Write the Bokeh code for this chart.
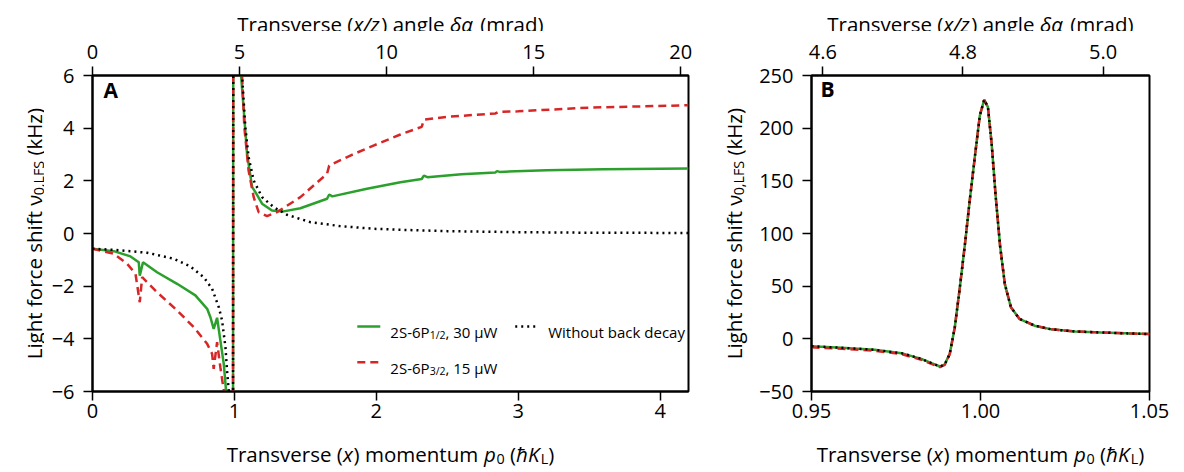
import math
from bokeh.plotting import figure
from bokeh.models import Range1d, LinearAxis, FixedTicker, Label, Arrow
from bokeh.layouts import row, column
from bokeh.embed import file_html
from bokeh.resources import INLINE

# ---------------- data ----------------
ANGLE_PER_MOMENTUM = 4.825  # mrad per hbar K_L (top axis conversion)

# Panel A: narrow resonance (shared by all curves, runs off-scale)
spike_a_x = [0.970, 0.982, 0.988, 0.9925, 0.997, 1.001, 1.006, 1.015, 1.030]
spike_a_y = [-11.0, -18.0, -27.0, 12.0, 135.0, 227.0, 84.0, 25.0, 12.0]

# green: 2S-6P1/2, 30 uW
green_left_x = [0.0, 0.15, 0.268, 0.326, 0.333, 0.356, 0.455, 0.596, 0.725, 0.808,
                0.831, 0.854, 0.878, 0.901, 0.925, 0.941, 0.960]
green_left_y = [-0.58, -0.67, -0.87, -1.09, -1.60, -1.09, -1.47, -1.91, -2.35, -2.86,
                -3.18, -3.62, -3.20, -4.06, -4.95, -5.96, -8.0]
green_right_x = [1.047, 1.066, 1.089, 1.125, 1.148, 1.195, 1.265, 1.347, 1.465, 1.653,
                 1.668, 1.690, 1.934, 2.170, 2.320, 2.335, 2.360, 2.600, 2.840, 2.850,
                 2.870, 3.200, 3.600, 4.200]
green_right_y = [6.0, 4.67, 3.03, 1.76, 1.57, 1.13, 0.87, 0.84, 0.96, 1.32,
                 1.48, 1.41, 1.70, 1.95, 2.07, 2.20, 2.14, 2.25, 2.32, 2.37,
                 2.34, 2.40, 2.44, 2.47]

# red: 2S-6P3/2, 15 uW
red_left_x = [0.0, 0.15, 0.244, 0.303, 0.333, 0.350, 0.455, 0.596, 0.714, 0.808,
              0.843, 0.854, 0.878, 0.901, 0.925, 0.950]
red_left_y = [-0.58, -0.77, -1.15, -1.53, -2.61, -1.66, -2.23, -2.92, -3.56, -4.19,
              -4.57, -5.14, -4.13, -5.08, -5.96, -8.5]
red_right_x = [1.054, 1.070, 1.100, 1.136, 1.171, 1.230, 1.300, 1.465, 1.653, 1.668,
               1.817, 1.980, 2.170, 2.320, 2.335, 2.500, 2.840, 2.860, 3.000, 3.500, 4.200]
red_right_y = [6.0, 4.04, 2.39, 1.38, 0.81, 0.66, 0.81, 1.38, 2.27, 2.58,
               2.96, 3.34, 3.76, 4.05, 4.32, 4.43, 4.56, 4.62, 4.64, 4.78, 4.87]

# black dotted: without back decay
black_left_x = [0.0, 0.15, 0.385, 0.573, 0.690, 0.784, 0.843, 0.890, 0.913, 0.937, 0.948, 0.960]
black_left_y = [-0.58, -0.62, -0.73, -0.96, -1.25, -1.66, -2.10, -2.80, -3.30, -4.32, -5.2, -5.96]
black_right_x = [1.054, 1.077, 1.100, 1.136, 1.195, 1.277, 1.371, 1.535, 1.746, 1.980,
                 2.170, 2.500, 3.000, 3.500, 4.200]
black_right_y = [6.0, 4.04, 2.90, 2.01, 1.38, 1.00, 0.71, 0.43, 0.28, 0.18,
                 0.14, 0.09, 0.05, 0.03, 0.02]

# Panel B: zoom on the resonance (kHz)
b_x = [0.9500, 0.9589, 0.9687, 0.9766, 0.9825, 0.9855, 0.9880, 0.9894, 0.9909, 0.9924,
       0.9939, 0.9954, 0.9968, 0.9983, 0.9998, 1.0011, 1.0022, 1.0033, 1.0045, 1.0058,
       1.0072, 1.0090, 1.0115, 1.0160, 1.0210, 1.0280, 1.0358, 1.0430, 1.0500]
green_b_y = [-7.0, -8.5, -10.4, -13.6, -19.0, -23.1, -26.3, -24.4, -14.3, 11.0,
             49.0, 90.0, 131.0, 172.0, 212.0, 227.0, 220.0, 185.0, 135.0, 88.0,
             52.0, 30.0, 19.0, 12.5, 9.0, 7.0, 6.0, 5.2, 4.5]
red_b_y = [-8.0, -9.4, -11.3, -14.5, -19.8, -23.8, -26.8, -24.8, -14.5, 11.0,
           49.0, 90.0, 131.0, 172.0, 212.0, 227.0, 220.0, 185.0, 135.0, 88.0,
           52.0, 30.0, 19.0, 12.5, 9.0, 7.0, 6.0, 5.2, 4.5]
black_b_y = [-7.0, -8.5, -10.4, -13.6, -19.0, -23.1, -26.3, -24.4, -14.3, 11.0,
             49.0, 90.0, 131.0, 172.0, 212.0, 227.0, 220.0, 185.0, 135.0, 88.0,
             52.0, 30.0, 19.0, 12.5, 9.0, 7.0, 6.0, 5.2, 4.5]

# ticks
a_x_ticks = [0, 1, 2, 3, 4]
a_x_labels = ["0", "1", "2", "3", "4"]
a_top_ticks = [0, 5, 10, 15, 20]
a_top_labels = ["0", "5", "10", "15", "20"]
a_y_ticks = [-6, -4, -2, 0, 2, 4, 6]
a_y_labels = ["\u22126", "\u22124", "\u22122", "0", "2", "4", "6"]
b_x_ticks = [0.95, 1.0, 1.05]
b_x_labels = ["0.95", "1.00", "1.05"]
b_top_ticks = [4.6, 4.8, 5.0]
b_top_labels = ["4.6", "4.8", "5.0"]
b_y_ticks = [-50, 0, 50, 100, 150, 200, 250]
b_y_labels = ["\u221250", "0", "50", "100", "150", "200", "250"]

GREEN = "#2ca02c"
RED = "#d62728"
FONT = "Open Sans"

OPEN_SANS_W = {' ': .26, '(': .296, ')': .296, ',': .245, '.': .266, '/': .367, '-': .322,
               'A': .633, 'B': .648, 'F': .516, 'H': .738, 'K': .593, 'L': .519, 'P': .603,
               'S': .549, 'T': .556, 'W': .925, 'a': .556, 'b': .613, 'c': .48, 'd': .613,
               'e': .561, 'f': .336, 'g': .546, 'h': .614, 'i': .258, 'k': .535, 'l': .258,
               'm': .933, 'n': .614, 'o': .602, 'p': .613, 'r': .408, 's': .477, 't': .353,
               'u': .614, 'v': .5, 'x': .519, 'y': .501, 'z': .468, '\u03bd': .5,
               '\u03b4': .6, '\u03b1': .613, '\u0127': .614, '\u03bc': .62}
for _d in "0123456789":
    OPEN_SANS_W[_d] = .572

SUB = 0.7


def text_w(s, size):
    return sum(OPEN_SANS_W.get(c, 0.56) for c in s) * size


def place_pieces(p, pieces, x, y, size, angle=0.0, align="center", base_dx=0.0, base_dy=0.0):
    """Lay out rich-text pieces (text, style, is_subscript) one after the other."""
    widths = [text_w(t, size * (SUB if sub else 1)) for t, st, sub in pieces]
    cum = -sum(widths) / 2 if align == "center" else 0.0
    for (t, st, sub), w in zip(pieces, widths):
        fs = size * SUB if sub else size
        lead = len(t) - len(t.lstrip(" "))
        start = cum + text_w(" " * lead, fs)
        shift = size * 0.22 if sub else 0.0
        if angle == 0:
            xo, yo = base_dx + start, base_dy - shift
        else:
            xo, yo = base_dx + shift, base_dy + start
        p.add_layout(Label(x=x, y=y, x_offset=xo, y_offset=yo, text=t.strip(" "), angle=angle,
                           text_font=FONT, text_font_size=f"{fs:.1f}px",
                           text_font_style=st, text_baseline="alphabetic",
                           text_align="left", text_color="black"))
        cum += w


Y_PIECES = [("Light force shift \u03bd", "normal", False), ("0,LFS", "normal", True),
            (" (kHz)", "normal", False)]
X_PIECES = [("Transverse (", "normal", False), ("x", "italic", False),
            (") momentum ", "normal", False), ("p", "italic", False), ("0", "normal", True),
            (" (", "normal", False), ("\u0127K", "italic", False), ("L", "normal", True),
            (")", "normal", False)]
TOP_PIECES = [("Transverse (", "normal", False), ("x/z", "italic", False),
              (") angle ", "normal", False), ("\u03b4\u03b1", "italic", False),
              (" (mrad)", "normal", False)]

LABEL_SIZE = 20.5
FRAME_H = 316
BORDER_TOP, BORDER_BOTTOM = 44, 40
TOP_H, BOT_H = 31, 40
FULL_H = TOP_H + BORDER_TOP + FRAME_H + BORDER_BOTTOM + BOT_H


def text_fig(fw, h, bl=0, br=0):
    # the frame of a text strip lines up with the frame of the panel in the same column
    f = figure(frame_width=fw, frame_height=h, x_range=Range1d(0, fw), y_range=Range1d(0, h),
               title=None, x_axis_type=None, y_axis_type=None, output_backend="svg",
               toolbar_location=None, min_border=0, min_border_left=bl, min_border_right=br,
               min_border_top=0, min_border_bottom=0, outline_line_color=None)
    f.grid.visible = False
    return f


def make_panel(xr, yr, top_r, xt, xl, tt, tl, yt, yl, border_left, border_right, fw):
    p = figure(frame_width=fw, frame_height=FRAME_H, x_range=Range1d(*xr), y_range=Range1d(*yr),
               title=None, output_backend="svg", toolbar_location=None,
               min_border_left=border_left, min_border_right=border_right,
               min_border_top=BORDER_TOP, min_border_bottom=BORDER_BOTTOM)
    p.extra_x_ranges = {"top": Range1d(*top_r)}
    p.add_layout(LinearAxis(x_range_name="top"), "above")
    p.grid.visible = False
    p.outline_line_color = "black"
    p.outline_line_width = 2
    p.background_fill_color = "white"
    p.border_fill_color = "white"
    for ax in p.below + p.above + p.left:
        ax.axis_line_width = 2
        ax.axis_line_color = "black"
        ax.major_tick_line_width = 1.5
        ax.major_tick_line_color = "black"
        ax.major_tick_out = 9
        ax.major_tick_in = 0
        ax.minor_tick_line_color = None
        ax.major_label_text_font = FONT
        ax.major_label_text_font_size = "20px"
        ax.major_label_text_color = "black"
    bottom, top, left = p.below[0], p.above[0], p.left[0]
    bottom.ticker = FixedTicker(ticks=xt)
    bottom.major_label_overrides = dict(zip(xt, xl))
    bottom.major_label_standoff = 3
    top.ticker = FixedTicker(ticks=tt)
    top.major_label_overrides = dict(zip(tt, tl))
    top.major_label_standoff = 8
    left.ticker = FixedTicker(ticks=yt)
    left.major_label_overrides = dict(zip(yt, yl))
    left.major_label_standoff = 9
    return p


def assemble(p, border_left, border_right, fw, ylab_w, ylab_baseline):
    top_f = text_fig(fw, TOP_H, border_left, border_right)
    place_pieces(top_f, TOP_PIECES, fw / 2, TOP_H - 23, LABEL_SIZE)
    bot_f = text_fig(fw, BOT_H, border_left, border_right)
    place_pieces(bot_f, X_PIECES, fw / 2, BOT_H - 22.5, LABEL_SIZE)
    ylab_f = text_fig(ylab_w, FULL_H)
    place_pieces(ylab_f, Y_PIECES, ylab_baseline, FULL_H - TOP_H - BORDER_TOP - FRAME_H / 2,
                 LABEL_SIZE, angle=math.pi / 2)
    return ylab_f, column(top_f, p, bot_f, spacing=0)


# ---------------- panel A ----------------
A_BL, A_BR, A_FW = 48, 12, 596
pa = make_panel((0, 4.2), (-6, 6), (0, 4.2 * ANGLE_PER_MOMENTUM),
                a_x_ticks, a_x_labels, a_top_ticks, a_top_labels, a_y_ticks, a_y_labels,
                A_BL, A_BR, A_FW)
pa.line(green_left_x + spike_a_x + green_right_x, green_left_y + spike_a_y + green_right_y,
        line_color=GREEN, line_width=2.5)
pa.line(red_left_x + spike_a_x + red_right_x, red_left_y + spike_a_y + red_right_y,
        line_color=RED, line_width=2.5, line_dash="8 5")
pa.line(black_left_x + spike_a_x + black_right_x, black_left_y + spike_a_y + black_right_y,
        line_color="black", line_width=2.5, line_dash="2 4")
pa.add_layout(Label(x=0, y=6, x_offset=11, y_offset=-28, text="A", text_font=FONT,
                    text_font_size="21px", text_font_style="bold", text_color="black"))

# legend (panel A)
LEG_SIZE = 15
pa.add_layout(Arrow(start=None, end=None, x_start=1.866, y_start=-3.53, x_end=2.028, y_end=-3.53,
                    line_color=GREEN, line_width=2.5))
pa.add_layout(Arrow(start=None, end=None, x_start=1.866, y_start=-4.89, x_end=2.028, y_end=-4.89,
                    line_color=RED, line_width=2.5, line_dash="8 5"))
pa.add_layout(Arrow(start=None, end=None, x_start=2.979, y_start=-3.53, x_end=3.134, y_end=-3.53,
                    line_color="black", line_width=2.5, line_dash="2 4"))

LEG_1 = [("2S-6P", "normal", False), ("1/2", "normal", True), (", 30 \u03bcW", "normal", False)]
LEG_2 = [("2S-6P", "normal", False), ("3/2", "normal", True), (", 15 \u03bcW", "normal", False)]
LEG_3 = [("Without back decay", "normal", False)]
place_pieces(pa, LEG_1, 2.099, -3.53, LEG_SIZE, align="left", base_dy=-5.5)
place_pieces(pa, LEG_2, 2.099, -4.89, LEG_SIZE, align="left", base_dy=-5.5)
place_pieces(pa, LEG_3, 3.211, -3.53, LEG_SIZE, align="left", base_dy=-5.5)

ylab_a, col_a = assemble(pa, A_BL, A_BR, A_FW, 44, 33)

# ---------------- panel B ----------------
B_BL, B_BR, B_FW = 54, 34, 338
pb = make_panel((0.95, 1.05), (-50, 250),
                (0.95 * ANGLE_PER_MOMENTUM, 1.05 * ANGLE_PER_MOMENTUM),
                b_x_ticks, b_x_labels, b_top_ticks, b_top_labels, b_y_ticks, b_y_labels,
                B_BL, B_BR, B_FW)
pb.line(b_x, green_b_y, line_color=GREEN, line_width=2.5)
pb.line(b_x, red_b_y, line_color=RED, line_width=2.5, line_dash="8 5")
pb.line(b_x, black_b_y, line_color="black", line_width=2.5, line_dash="2 4")
pb.add_layout(Label(x=0.95, y=250, x_offset=9, y_offset=-27, text="B", text_font=FONT,
                    text_font_size="21px", text_font_style="bold", text_color="black"))

ylab_b, col_b = assemble(pb, B_BL, B_BR, B_FW, 56, 33)

layout = row(ylab_a, col_a, ylab_b, col_b, spacing=0)
open("out.html", "w").write(file_html(layout, INLINE, "Light force shift"))
